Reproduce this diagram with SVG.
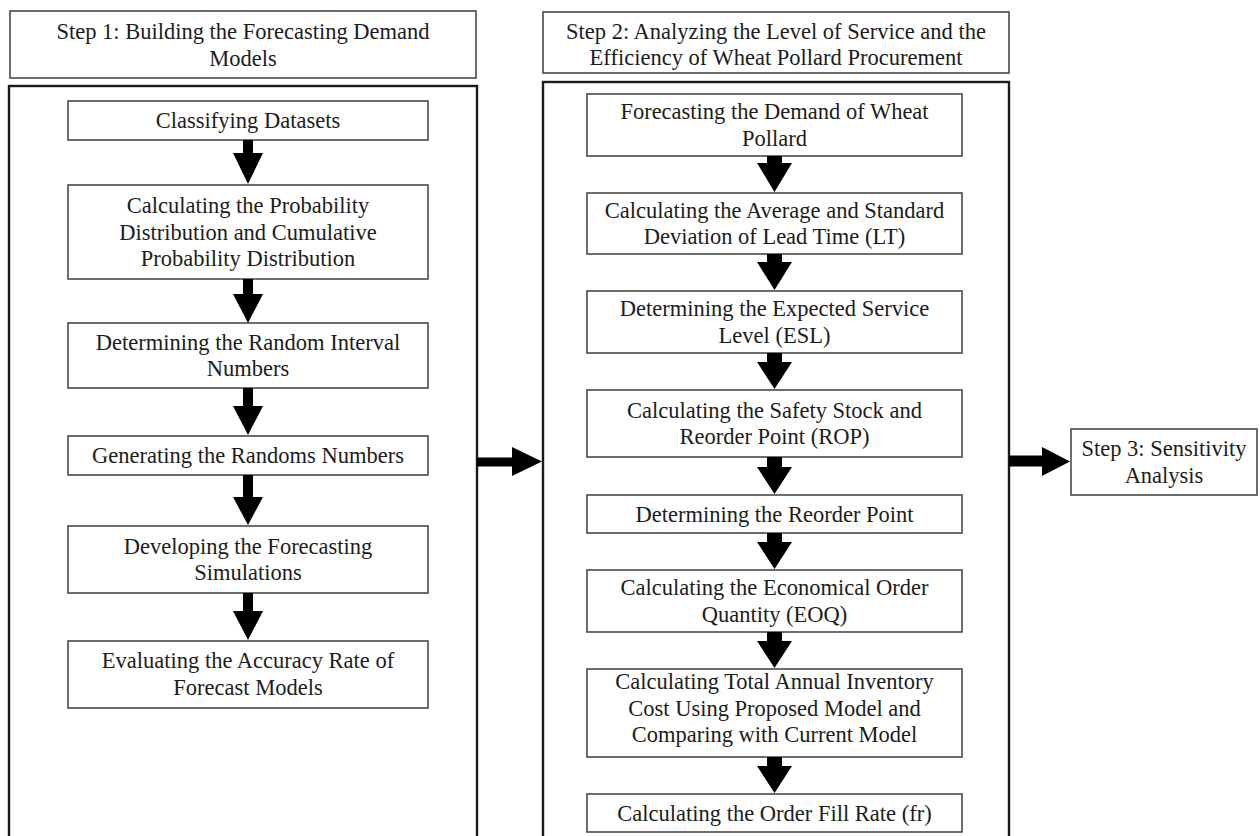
<svg xmlns="http://www.w3.org/2000/svg" width="1260" height="836" viewBox="0 0 1260 836">
<style>
.bg{fill:#ffffff}
.box{fill:#ffffff;stroke:#4a4a4a;stroke-width:1.6}
.cont{fill:none;stroke:#1a1a1a;stroke-width:2.4}
.t{font-family:"Liberation Serif","Times New Roman",serif;font-size:22.5px;fill:#1c1c1c;text-anchor:middle}
.arr{fill:#000000}
</style>
<rect class="bg" x="0" y="0" width="1260" height="836"/>
<g id="step1-header">
<rect class="box" x="10" y="11" width="466" height="67"/>
<text class="t" x="243" y="39">Step 1: Building the Forecasting Demand</text>
<text class="t" x="243" y="65.5">Models</text>
</g>
<g id="step1-container">
<rect class="cont" x="9" y="86" width="468" height="770"/>
</g>
<g id="s1n1">
<rect class="box" x="68" y="101" width="360" height="39"/>
<text class="t" x="248" y="128">Classifying Datasets</text>
</g>
<g id="s1n2">
<rect class="box" x="68" y="185" width="360" height="94"/>
<text class="t" x="248" y="213">Calculating the Probability</text>
<text class="t" x="248" y="239.5">Distribution and Cumulative</text>
<text class="t" x="248" y="266">Probability Distribution</text>
</g>
<g id="s1n3">
<rect class="box" x="68" y="323" width="360" height="65"/>
<text class="t" x="248" y="349.5">Determining the Random Interval</text>
<text class="t" x="248" y="376">Numbers</text>
</g>
<g id="s1n4">
<rect class="box" x="68" y="436" width="360" height="39"/>
<text class="t" x="248" y="463">Generating the Randoms Numbers</text>
</g>
<g id="s1n5">
<rect class="box" x="68" y="526" width="360" height="67"/>
<text class="t" x="248" y="553.5">Developing the Forecasting</text>
<text class="t" x="248" y="580">Simulations</text>
</g>
<g id="s1n6">
<rect class="box" x="68" y="641" width="360" height="67"/>
<text class="t" x="248" y="668">Evaluating the Accuracy Rate of</text>
<text class="t" x="248" y="694.5">Forecast Models</text>
</g>
<g id="step2-header">
<rect class="box" x="543" y="12" width="466" height="61"/>
<text class="t" x="776" y="38.5">Step 2: Analyzing the Level of Service and the</text>
<text class="t" x="776" y="64.5">Efficiency of Wheat Pollard Procurement</text>
</g>
<g id="step2-container">
<rect class="cont" x="543" y="82" width="466" height="774"/>
</g>
<g id="s2n1">
<rect class="box" x="587" y="94" width="375" height="62"/>
<text class="t" x="774.5" y="119">Forecasting the Demand of Wheat</text>
<text class="t" x="774.5" y="145.5">Pollard</text>
</g>
<g id="s2n2">
<rect class="box" x="587" y="193" width="375" height="61"/>
<text class="t" x="774.5" y="217.5">Calculating the Average and Standard</text>
<text class="t" x="774.5" y="244">Deviation of Lead Time (LT)</text>
</g>
<g id="s2n3">
<rect class="box" x="587" y="291" width="375" height="62"/>
<text class="t" x="774.5" y="316">Determining the Expected Service</text>
<text class="t" x="774.5" y="342.5">Level (ESL)</text>
</g>
<g id="s2n4">
<rect class="box" x="587" y="390" width="375" height="67"/>
<text class="t" x="774.5" y="417.5">Calculating the Safety Stock and</text>
<text class="t" x="774.5" y="444">Reorder Point (ROP)</text>
</g>
<g id="s2n5">
<rect class="box" x="587" y="495" width="375" height="38"/>
<text class="t" x="774.5" y="521.5">Determining the Reorder Point</text>
</g>
<g id="s2n6">
<rect class="box" x="587" y="570" width="375" height="62"/>
<text class="t" x="774.5" y="595">Calculating the Economical Order</text>
<text class="t" x="774.5" y="621.5">Quantity (EOQ)</text>
</g>
<g id="s2n7">
<rect class="box" x="587" y="669" width="375" height="88"/>
<text class="t" x="774.5" y="689">Calculating Total Annual Inventory</text>
<text class="t" x="774.5" y="715.5">Cost Using Proposed Model and</text>
<text class="t" x="774.5" y="742">Comparing with Current Model</text>
</g>
<g id="s2n8">
<rect class="box" x="587" y="794" width="375" height="38"/>
<text class="t" x="774.5" y="821">Calculating the Order Fill Rate (fr)</text>
</g>
<g id="step3">
<rect class="box" x="1071" y="429" width="186" height="66"/>
<text class="t" x="1164" y="456">Step 3: Sensitivity</text>
<text class="t" x="1164" y="482.5">Analysis</text>
</g>
<g id="connectors">
<polygon class="arr" points="243,140 253,140 253,153 263,153 248,184 233,153 243,153"/>
<polygon class="arr" points="243,279 253,279 253,294 263,294 248,323 233,294 243,294"/>
<polygon class="arr" points="243,388 253,388 253,406 263,406 248,435 233,406 243,406"/>
<polygon class="arr" points="243,475 253,475 253,497 263,497 248,525 233,497 243,497"/>
<polygon class="arr" points="243,593 253,593 253,611 263,611 248,640 233,611 243,611"/>
<polygon class="arr" points="767,156 782,156 782,163 792,163 774.5,192 757,163 767,163"/>
<polygon class="arr" points="767,254 782,254 782,262 792,262 774.5,290 757,262 767,262"/>
<polygon class="arr" points="767,353 782,353 782,362 792,362 774.5,389 757,362 767,362"/>
<polygon class="arr" points="767,457 782,457 782,467 792,467 774.5,494 757,467 767,467"/>
<polygon class="arr" points="767,533 782,533 782,542 792,542 774.5,569 757,542 767,542"/>
<polygon class="arr" points="767,632 782,632 782,641 792,641 774.5,668 757,641 767,641"/>
<polygon class="arr" points="767,757 782,757 782,766 792,766 774.5,793 757,766 767,766"/>
<polygon class="arr" points="477,457.5 512,457.5 512,447 542,461.5 512,476 512,466.5 477,466.5"/>
<polygon class="arr" points="1009,455.5 1042,455.5 1042,447 1070,461.5 1042,476 1042,466.5 1009,466.5"/>
</g>
</svg>
